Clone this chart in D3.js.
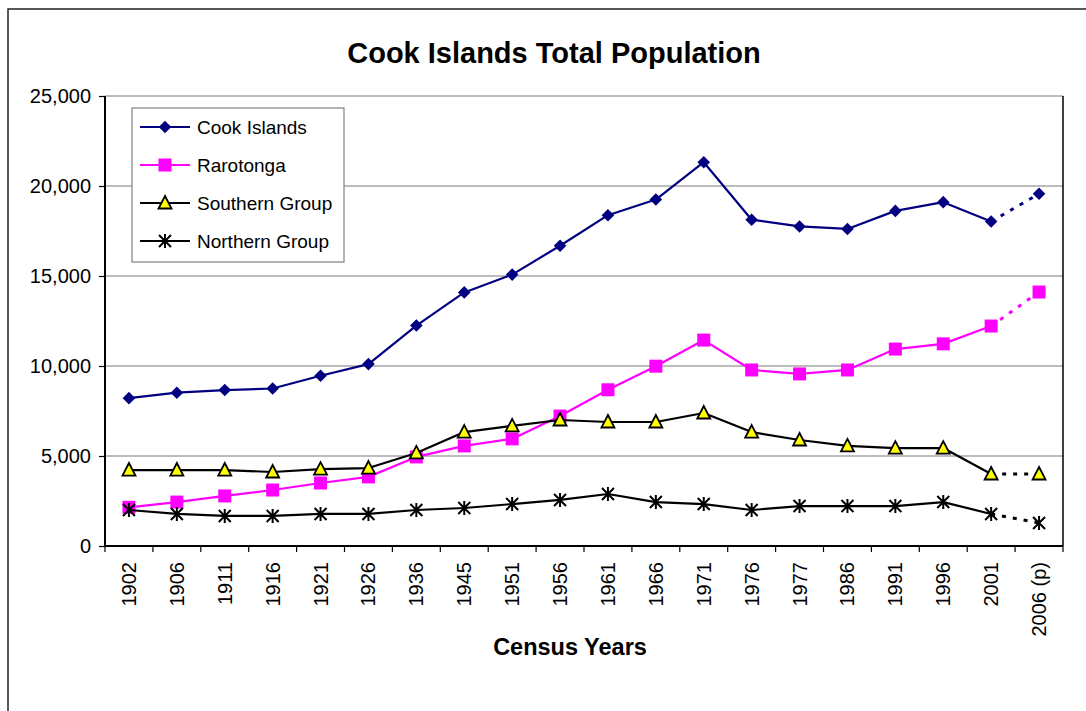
<!DOCTYPE html>
<html>
<head>
<meta charset="utf-8">
<script src="https://cdn.jsdelivr.net/npm/d3@7"></script>
<style>
  html, body { margin: 0; padding: 0; background: #fff; }
  svg { display: block; font-family: "Liberation Sans", Arial, sans-serif; }
</style>
</head>
<body>
<svg id="chart" width="1086" height="711"></svg>
<script>
const categories = ["1902","1906","1911","1916","1921","1926","1936","1945","1951","1956","1961","1966","1971","1976","1977","1986","1991","1996","2001","2006 (p)"];
const cookIslands = [8213,8518,8665,8750,9459,10105,12246,14088,15079,16680,18378,19247,21323,18128,17754,17614,18617,19103,18027,19569];
const rarotonga   = [2150,2440,2780,3110,3500,3840,4950,5560,5950,7220,8680,9990,11440,9780,9560,9780,10940,11230,12220,14110];
const southern    = [4220,4220,4220,4110,4270,4330,5170,6330,6670,7000,6890,6890,7390,6330,5890,5560,5440,5440,4000,4000];
const northern    = [2000,1780,1670,1670,1780,1780,2000,2110,2330,2560,2890,2440,2330,2000,2220,2220,2220,2440,1780,1280];
const yTicks = [0,5000,10000,15000,20000,25000];

const seriesList = [
  { name: "Cook Islands",   values: cookIslands, color: "#000080", marker: "diamond" },
  { name: "Rarotonga",      values: rarotonga,   color: "#ff00ff", marker: "square" },
  { name: "Southern Group", values: southern,    color: "#000000", marker: "triangle" },
  { name: "Northern Group", values: northern,    color: "#000000", marker: "star" }
];

const svg = d3.select("#chart");
const L = 105, R = 1063, T = 96, B = 546;

// outer frame
svg.append("path").attr("d", "M8,711 V9 H1086").attr("fill", "none").attr("stroke", "#222").attr("stroke-width", 1.5);

const x = d3.scaleBand().domain(categories).range([L, R]);
const y = d3.scaleLinear().domain([0, 25000]).range([B, T]);
const cx = c => x(c) + x.bandwidth() / 2;

// gridlines
svg.append("g").selectAll("line").data(yTicks.filter(d => d > 0)).join("line")
  .attr("x1", L).attr("x2", R).attr("y1", d => y(d)).attr("y2", d => y(d))
  .attr("stroke", "#7a7a7a").attr("stroke-width", 1.2);

// right border
svg.append("line").attr("x1", R).attr("x2", R).attr("y1", T).attr("y2", B).attr("stroke", "#000").attr("stroke-width", 1.5);

// y axis
const yAxis = svg.append("g").attr("transform", `translate(${L},0)`)
  .call(d3.axisLeft(y).tickValues(yTicks).tickFormat(d3.format(",")).tickSize(6).tickPadding(8));
yAxis.select(".domain").attr("stroke", "#000").attr("stroke-width", 2).attr("d", `M0,${T}V${B}`);
yAxis.selectAll(".tick line").attr("stroke", "#000").attr("stroke-width", 1.2);
yAxis.selectAll(".tick text").attr("font-size", 20).attr("fill", "#000")
  .attr("font-family", "'Liberation Sans', Arial, sans-serif");

// x axis
const xg = svg.append("g");
xg.append("line").attr("x1", L).attr("x2", R).attr("y1", B).attr("y2", B).attr("stroke", "#000").attr("stroke-width", 2);
const edges = categories.map(c => x(c)).concat([R]);
xg.selectAll("line.tk").data(edges).join("line").attr("class", "tk")
  .attr("x1", d => d).attr("x2", d => d).attr("y1", B).attr("y2", B + 6)
  .attr("stroke", "#000").attr("stroke-width", 1.2);
xg.selectAll("text").data(categories).join("text")
  .attr("transform", c => `translate(${cx(c) + 7},${B + 16}) rotate(-90)`)
  .attr("text-anchor", "end").attr("font-size", 20).attr("fill", "#000").text(c => c);

// marker paths
function markerPath(type) {
  switch (type) {
    case "diamond": return "M0,-6.3L6.3,0L0,6.3L-6.3,0Z";
    case "square": return "M-6.5,-6.5H6.5V6.5H-6.5Z";
    case "triangle": return "M0,-7L6.5,5.5H-6.5Z";
    case "star": return "M0,-7V7M-6,-6L6,6M-6,6L6,-6";
  }
}
function drawMarker(g, type, color, px, py) {
  const p = g.append("path").attr("transform", `translate(${px},${py})`).attr("d", markerPath(type));
  if (type === "triangle") p.attr("fill", "#ffff00").attr("stroke", "#000").attr("stroke-width", 1.8).attr("stroke-linejoin", "miter");
  else if (type === "star") p.attr("fill", "none").attr("stroke", "#000").attr("stroke-width", 2);
  else p.attr("fill", color);
}

const line = d3.line().x(d => cx(d.c)).y(d => y(d.v));

seriesList.forEach(s => {
  const pts = s.values.map((v, i) => ({ c: categories[i], v }));
  const g = svg.append("g");
  const solid = pts.slice(0, pts.length - 1);
  const dotted = pts.slice(pts.length - 2);
  g.append("path").attr("d", line(solid)).attr("fill", "none").attr("stroke", s.color).attr("stroke-width", 2.2).attr("stroke-linejoin", "round");
  g.append("path").attr("d", line(dotted)).attr("fill", "none").attr("stroke", s.color).attr("stroke-width", 3).attr("stroke-dasharray", "4,7");
  pts.forEach(d => drawMarker(g, s.marker, s.color, cx(d.c), y(d.v)));
});

// legend
const lg = svg.append("g");
lg.append("rect").attr("x", 132).attr("y", 108).attr("width", 212).attr("height", 154)
  .attr("fill", "#fff").attr("stroke", "#808080").attr("stroke-width", 1.2);
seriesList.forEach((s, i) => {
  const ly = 127 + i * 38;
  lg.append("line").attr("x1", 140).attr("x2", 190).attr("y1", ly).attr("y2", ly).attr("stroke", s.color).attr("stroke-width", 2);
  drawMarker(lg, s.marker, s.color, 165, ly);
  lg.append("text").attr("x", 197).attr("y", ly + 7).attr("font-size", 19).attr("fill", "#000").text(s.name);
});

// titles
svg.append("text").attr("x", 554).attr("y", 63).attr("text-anchor", "middle")
  .attr("font-size", 29).attr("font-weight", "bold").attr("fill", "#000").text("Cook Islands Total Population");
svg.append("text").attr("x", 570).attr("y", 655).attr("text-anchor", "middle")
  .attr("font-size", 23.5).attr("font-weight", "bold").attr("fill", "#000").text("Census Years");
</script>
</body>
</html>
